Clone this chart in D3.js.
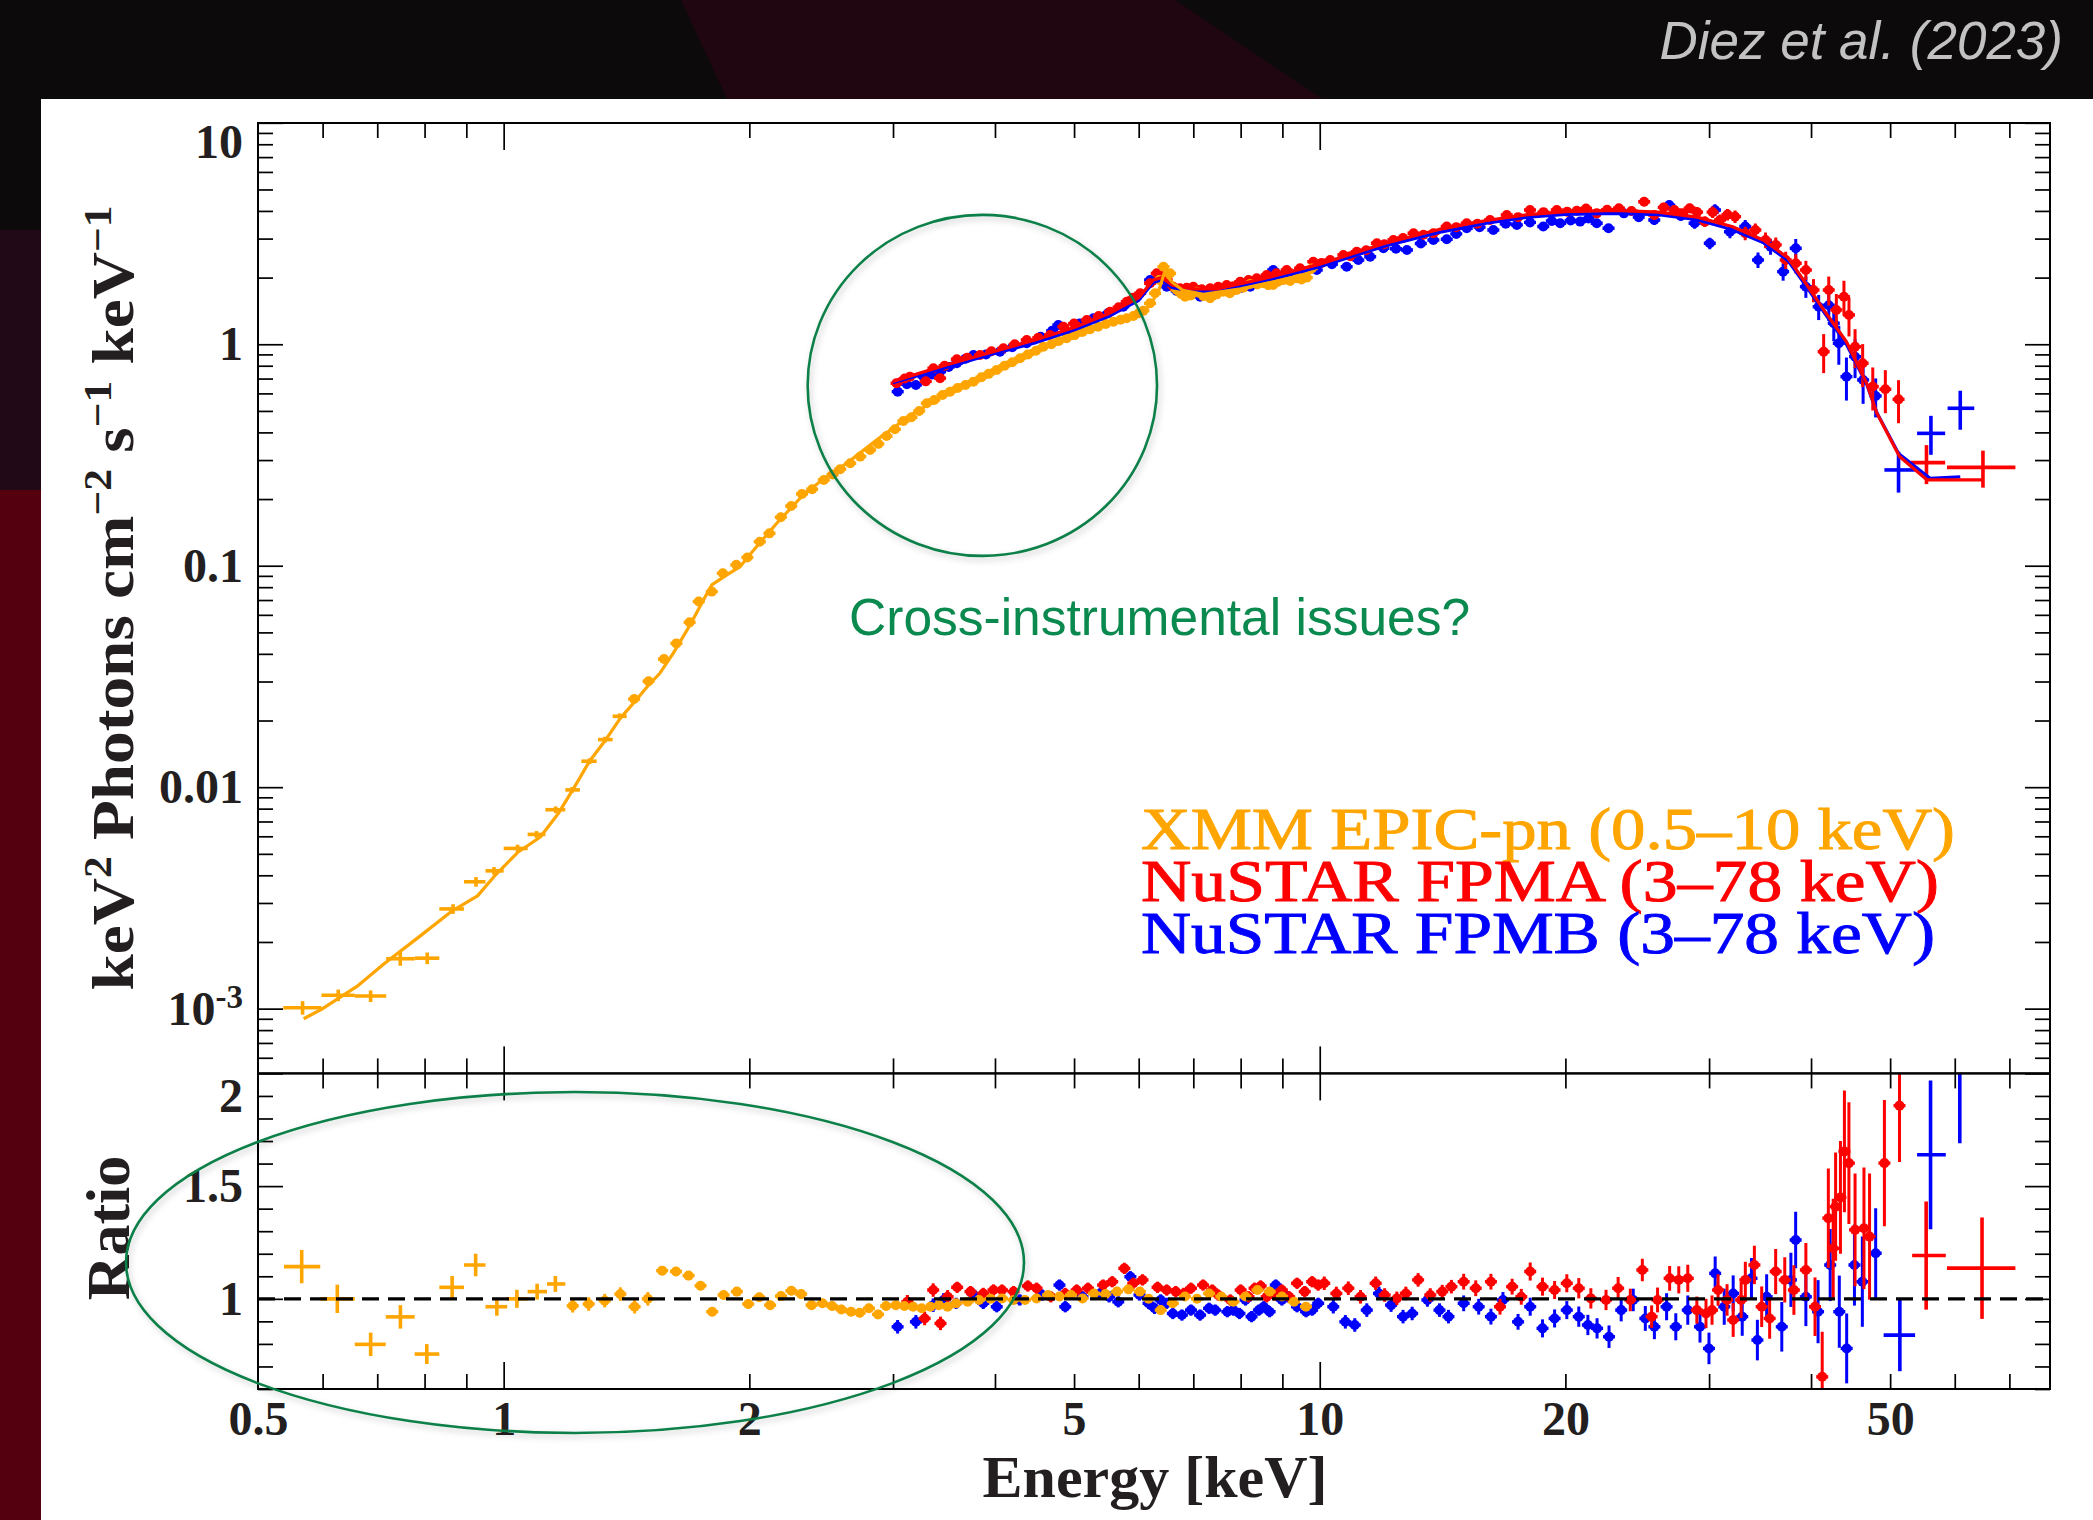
<!DOCTYPE html>
<html>
<head>
<meta charset="utf-8">
<script src="https://cdn.jsdelivr.net/npm/d3@7/dist/d3.min.js"></script>
<style>
html,body{margin:0;padding:0;background:#0d0a0b;overflow:hidden;}
svg{display:block;}
</style>
</head>
<body>
<svg id="chart" width="2093" height="1520"></svg>
<script>
// ================= DATA =================
const xTickLabels = [0.5, 1, 2, 5, 10, 20, 50];
const yTopTicks = [0.001, 0.01, 0.1, 1, 10];
const yRatioTicks = [1, 1.5, 2];
const legendLabels = ["XMM EPIC-pn (0.5–10 keV)", "NuSTAR FPMA (3–78 keV)", "NuSTAR FPMB (3–78 keV)"];
const seriesColors = ["#ffa500", "#ff0000", "#0000ff"];
const annotText = "Cross-instrumental issues?";
const creditText = "Diez et al. (2023)";

// XMM EPIC-pn unfolded spectrum: [E keV, keV^2 flux, rel. err, (Elo, Ehi)]
const xmmFlux = [
[0.567,1.01e-3,0.07,0.537,0.598],[0.627,1.15e-3,0.06,0.598,0.657],[0.687,1.14e-3,0.06,0.657,0.718],
[0.747,1.68e-3,0.07,0.718,0.778],[0.806,1.69e-3,0.06,0.778,0.834],[0.867,2.82e-3,0.05,0.834,0.894],
[0.925,3.74e-3,0.05,0.894,0.95],[0.973,4.19e-3,0.04,0.95,1.0],[1.04,5.29e-3,0.04,1.0,1.07],
[1.097,6.12e-3,0.035,1.07,1.125],[1.158,7.91e-3,0.035,1.125,1.19],[1.213,9.72e-3,0.03,1.19,1.24],
[1.274,1.31e-2,0.03,1.245,1.30],[1.331,1.64e-2,0.03,1.305,1.36],[1.387,2.09e-2,0.03,1.36,1.415],
[1.445,2.50e-2,0.025],[1.505,3.01e-2,0.025],[1.572,3.79e-2,0.025],[1.628,4.46e-2,0.02],[1.69,5.55e-2,0.02],
[1.734,6.89e-2,0.02],[1.799,7.64e-2,0.02],[1.856,9.25e-2,0.02],[1.928,0.1009,0.02],[1.989,0.109,0.02],
[2.06,0.1284,0.02],[2.117,0.140,0.02],[2.186,0.1656,0.02],[2.251,0.186,0.02],[2.321,0.211,0.02],
[2.388,0.2215,0.02],[2.468,0.244,0.02],[2.53,0.258,0.02],[2.585,0.273,0.02],[2.659,0.290,0.02],
[2.735,0.311,0.02],[2.812,0.333,0.02],[2.878,0.355,0.02],[2.946,0.385,0.02],[3.016,0.413,0.02],
[3.089,0.45,0.02],[3.16,0.468,0.02],[3.23,0.50,0.02],[3.30,0.5416,0.02],[3.37,0.56,0.02],[3.45,0.59,0.02],
[3.524,0.611,0.02],[3.60,0.635,0.02],[3.68,0.655,0.02],[3.764,0.678,0.02],[3.85,0.71,0.02],[3.93,0.735,0.02],
[4.02,0.766,0.02],[4.11,0.80,0.02],[4.20,0.83,0.02],[4.294,0.865,0.02],[4.39,0.90,0.02],[4.49,0.935,0.02],
[4.585,0.975,0.02],[4.69,1.0,0.02],[4.79,1.035,0.02],[4.898,1.064,0.02],[5.01,1.10,0.02],[5.12,1.135,0.02],
[5.232,1.168,0.02],[5.35,1.20,0.02],[5.47,1.235,0.02],[5.587,1.265,0.02],[5.70,1.29,0.02],[5.80,1.31,0.02],
[5.911,1.342,0.02],[6.00,1.38,0.02],[6.08,1.418,0.02],[6.196,1.531,0.02],[6.284,1.699,0.02],[6.36,1.95,0.02],
[6.434,2.24,0.02],[6.556,2.09,0.02],[6.681,1.758,0.02],[6.76,1.69,0.02],[6.839,1.64,0.02],[6.95,1.66,0.02],
[7.07,1.727,0.02],[7.2,1.65,0.02],[7.34,1.613,0.02],[7.48,1.68,0.02],[7.62,1.727,0.02],[7.76,1.70,0.02],
[7.91,1.758,0.02],[8.06,1.80,0.02],[8.22,1.873,0.02],[8.38,1.86,0.02],[8.53,1.887,0.02],[8.65,1.85,0.02],
[8.77,1.853,0.02],[8.9,1.92,0.02],[9.03,1.951,0.02],[9.2,1.93,0.02],[9.37,1.986,0.02],[9.5,1.96,0.02],
[9.64,2.00,0.02],[9.78,2.2,0.02]
];
const xmmModel = [
[0.5687,9.0e-4],[0.598,9.92e-4],[0.661,1.26e-3],[0.713,1.59e-3],[0.789,2.12e-3],[0.862,2.74e-3],
[0.929,3.23e-3],[0.977,4.01e-3],[1.04,5.07e-3],[1.109,5.96e-3],[1.166,7.58e-3],[1.226,1.027e-2],
[1.274,1.31e-2],[1.331,1.62e-2],[1.39,2.05e-2],[1.45,2.45e-2],[1.50,2.85e-2],[1.554,3.27e-2],
[1.614,4.03e-2],[1.692,5.40e-2],[1.757,7.01e-2],[1.799,8.19e-2],[1.877,9.09e-2],[1.949,0.0991],
[2.042,0.122],[2.161,0.1555],[2.308,0.2017],[2.441,0.2397],[2.633,0.2903],[2.866,0.37],[3.178,0.488],
[3.5,0.6],[4.0,0.76],[4.5,0.94],[5.0,1.09],[5.5,1.23],[6.0,1.36],[6.2,1.5],[6.35,1.75],[6.45,2.1],
[6.6,1.9],[6.8,1.75],[7.2,1.68],[8.0,1.78],[9.0,1.95],[9.8,2.12]
];

// NuSTAR FPMA unfolded spectrum
const fpmaFlux = [
[3.03,0.667,0.03],[3.10,0.70,0.03],[3.147,0.714,0.03],[3.29,0.68,0.03],[3.362,0.779,0.03],[3.426,0.703,0.03],
[3.47,0.80,0.03],[3.592,0.856,0.025],[3.70,0.87,0.025],[3.835,0.895,0.025],[3.96,0.93,0.025],[4.096,0.959,0.025],
[4.23,1.0,0.025],[4.375,1.046,0.025],[4.52,1.07,0.025],[4.672,1.101,0.025],[4.851,1.201,0.025],[5.0,1.24,0.025],
[5.183,1.287,0.025],[5.36,1.34,0.025],[5.535,1.403,0.025],[5.67,1.47,0.025],[5.802,1.557,0.025],[5.91,1.62,0.025],
[6.025,1.699,0.025],[6.196,1.886,0.025],[6.314,2.091,0.025],[6.40,2.04,0.025],[6.494,1.951,0.025],[6.617,1.82,0.025],
[6.742,1.79,0.025],[6.87,1.80,0.025],[7.0,1.82,0.025],[7.17,1.77,0.025],[7.34,1.79,0.025],[7.51,1.82,0.025],
[7.69,1.853,0.025],[7.84,1.83,0.025],[7.99,1.916,0.025],[8.18,1.95,0.025],[8.37,1.986,0.025],[8.61,2.055,0.025],
[8.85,2.09,0.025],[9.11,2.164,0.025],[9.46,2.203,0.025],[9.82,2.36,0.025],[10.05,2.33,0.03],[10.30,2.402,0.03],
[10.69,2.53,0.03],[10.9,2.50,0.03],[11.10,2.618,0.03],[11.4,2.66,0.03],[11.75,2.857,0.03],[12.0,2.83,0.03],
[12.31,2.957,0.03],[12.65,3.02,0.03],[13.03,3.17,0.03],[13.4,3.12,0.03],[13.78,3.17,0.03],[14.31,3.40,0.03],
[14.7,3.38,0.03],[15.14,3.52,0.03],[15.6,3.50,0.03],[16.17,3.64,0.035],[16.95,3.835,0.035],[17.5,3.75,0.035],
[18.10,4.04,0.035],[18.8,3.95,0.035],[19.52,4.04,0.035],[20.1,3.97,0.04],[20.65,4.01,0.04],[21.2,4.10,0.04],
[21.85,3.90,0.04],[22.5,4.05,0.04],[23.26,4.11,0.04],[24.1,4.0,0.045],[24.98,4.40,0.045],[25.70,3.835,0.045],
[26.4,4.15,0.05],[27.20,4.04,0.05],[27.8,3.9,0.05],[28.40,4.11,0.05],[29.0,3.95,0.055],[29.64,3.58,0.055],
[30.3,3.95,0.06],[30.94,3.64,0.06],[31.6,3.85,0.06],[32.28,3.77,0.065],[33.22,3.17,0.07],[34.18,3.28,0.07],
[35.18,2.957,0.08],[36.21,2.81,0.08],[37.24,2.402,0.09],[38.31,2.32,0.1],[39.42,2.164,0.1],[40.28,1.758,0.12],
[41.45,0.926,0.2],[42.05,1.758,0.15],[42.96,1.429,0.18],[43.89,1.64,0.18],[44.52,1.356,0.2],[45.29,0.975,0.2],
[46.27,0.821,0.22],[47.61,0.644,0.22],[49.33,0.626,0.22],[51.20,0.564,0.22],
[55.4,0.292,0.2,53.0,58.4],[64.97,0.278,0.19,58.7,71.2]
];
const fpmaModel = [
[3.0,0.68],[3.5,0.81],[4.0,0.93],[4.5,1.05],[5.0,1.19],[5.5,1.37],[6.0,1.62],[6.25,1.95],[6.4,2.0],[6.6,1.85],
[7.0,1.78],[7.5,1.78],[8.5,1.97],[10,2.3],[12,2.85],[14,3.3],[16,3.62],[18,3.85],[20,3.97],[23,4.02],[26,3.95],
[29,3.75],[32,3.4],[35,2.95],[37.5,2.45],[39.4,1.886],[41.74,1.38],[44.2,1.027],[46.8,0.667],[48.17,0.488],
[51.34,0.311],[55.5,0.244],[64.97,0.244]
];

// NuSTAR FPMB unfolded spectrum
const fpmbFlux = [
[3.04,0.611,0.03],[3.12,0.66,0.03],[3.2,0.655,0.03],[3.269,0.714,0.03],[3.35,0.73,0.03],[3.426,0.752,0.03],
[3.51,0.79,0.03],[3.592,0.821,0.025],[3.68,0.86,0.025],[3.764,0.895,0.025],[3.9,0.90,0.025],[4.057,0.926,0.025],
[4.2,0.97,0.025],[4.375,1.01,0.025],[4.55,1.08,0.025],[4.70,1.15,0.025],[4.783,1.222,0.025],[4.898,1.121,0.025],
[5.08,1.24,0.025],[5.281,1.31,0.025],[5.5,1.38,0.025],[5.745,1.478,0.025],[5.95,1.62,0.025],[6.196,1.951,0.025],
[6.374,2.019,0.025],[6.494,1.82,0.025],[6.68,1.74,0.025],[6.873,1.727,0.025],[7.135,1.64,0.025],[7.43,1.758,0.025],
[7.638,1.74,0.025],[7.838,1.79,0.025],[8.02,1.80,0.025],[8.22,1.82,0.025],[8.5,1.95,0.025],[8.77,2.164,0.025],
[9.03,2.06,0.025],[9.284,2.055,0.025],[9.6,2.13,0.025],[9.917,2.164,0.025],[10.35,2.30,0.03],[10.79,2.24,0.03],
[11.15,2.40,0.03],[11.53,2.485,0.03],[11.97,2.713,0.03],[12.4,2.70,0.03],[12.79,2.665,0.03],[13.3,2.85,0.03],
[13.78,2.957,0.03],[14.31,2.979,0.03],[14.7,3.15,0.03],[15.14,3.34,0.03],[15.7,3.38,0.03],[16.32,3.28,0.035],
[16.9,3.50,0.035],[17.44,3.46,0.035],[18.1,3.55,0.035],[18.79,3.40,0.035],[19.25,3.6,0.035],[19.71,3.52,0.04],
[20.3,3.62,0.04],[20.85,3.58,0.04],[21.35,3.70,0.04],[21.85,3.52,0.04],[22.59,3.34,0.04],[23.59,3.90,0.045],
[24.6,3.75,0.045],[25.70,3.64,0.05],[26.81,4.25,0.05],[27.7,3.8,0.05],[28.80,3.52,0.055],[30.06,2.857,0.06],
[30.50,4.04,0.06],[31.82,3.22,0.065],[33.22,3.40,0.07],[34.44,2.402,0.08],[35.68,2.76,0.08],[36.97,2.128,0.09],
[38.31,2.713,0.1],[39.42,1.82,0.11],[40.87,1.478,0.13],[42.05,1.50,0.15],[42.65,1.244,0.17],[43.26,1.01,0.2],
[44.20,0.714,0.22],[45.29,0.879,0.2],[46.33,0.69,0.22],[48.0,0.584,0.2],
[51.2,0.2707,0.21,49.2,53.6],[56.1,0.396,0.2,53.95,58.4],[60.94,0.514,0.2,58.8,63.4]
];
const fpmbModel = [
[3.0,0.67],[3.5,0.79],[4.0,0.91],[4.5,1.02],[5.0,1.16],[5.5,1.33],[6.0,1.58],[6.25,1.9],[6.4,1.95],[6.6,1.8],
[7.0,1.73],[7.5,1.73],[8.5,1.92],[10,2.24],[12,2.77],[14,3.2],[16,3.52],[18,3.75],[20,3.86],[23,3.9],[26,3.85],
[29,3.65],[32,3.3],[35,2.87],[37.5,2.38],[39.4,1.84],[41.74,1.35],[44.2,1.0],[46.8,0.66],[48.17,0.49],
[51.2,0.321],[55.95,0.248],[60.94,0.252]
];

// Data / model ratios: [E keV, ratio, ±err, (Elo, Ehi)]
const xmmRatio = [
[0.5656,1.143,0.074,0.538,0.596],[0.6254,1.0,0.063,0.596,0.657],[0.6871,0.798,0.052,0.657,0.717],
[0.7473,0.920,0.052,0.717,0.778],[0.805,0.755,0.044,0.778,0.834],[0.8647,1.051,0.05,0.834,0.894],
[0.924,1.150,0.05,0.894,0.95],[0.981,0.965,0.04,0.95,1.01],[1.038,1.0,0.04,1.01,1.07],
[1.099,1.032,0.035,1.07,1.13],[1.157,1.066,0.035,1.13,1.19],
[1.215,0.969,0.03],[1.271,0.977,0.03],[1.330,0.992,0.03],[1.390,1.021,0.03],[1.447,0.965,0.03],[1.502,1.0,0.03],
[1.564,1.125,0.02],[1.626,1.121,0.02],[1.685,1.103,0.02],[1.743,1.058,0.02],[1.801,0.943,0.02],[1.860,1.017,0.02],
[1.931,1.032,0.02],[1.994,0.977,0.02],[2.057,1.007,0.02],[2.121,0.972,0.02],[2.187,1.012,0.02],[2.252,1.036,0.02],
[2.315,1.021,0.02],[2.384,0.972,0.02],[2.458,0.98,0.02],[2.526,0.968,0.02],[2.593,0.953,0.02],[2.665,0.943,0.02],
[2.731,0.938,0.02],[2.803,0.958,0.02],[2.876,0.931,0.02],[2.942,0.968,0.02],[3.024,0.972,0.015],[3.098,0.968,0.015],
[3.175,0.965,0.015],[3.253,0.958,0.015],[3.334,0.965,0.015],[3.415,0.972,0.015],[3.499,0.965,0.015],[3.585,0.98,0.015],
[3.703,0.987,0.015],[3.824,0.995,0.015],[3.951,1.0,0.015],[4.081,1.002,0.015],[4.215,0.995,0.015],[4.354,0.995,0.015],
[4.498,1.002,0.015],[4.646,1.017,0.015],[4.798,1.01,0.015],[4.957,1.017,0.015],[5.120,1.002,0.015],[5.289,1.024,0.015],
[5.463,1.021,0.015],[5.643,1.032,0.015],[5.829,1.042,0.015],[6.020,1.032,0.015],[6.170,1.0,0.015],[6.385,0.95,0.015],
[6.606,0.98,0.015],[6.836,1.01,0.015],[7.073,1.0,0.015],[7.32,1.024,0.015],[7.574,1.01,0.015],[7.838,0.987,0.015],
[8.11,1.01,0.015],[8.39,1.039,0.015],[8.685,1.032,0.015],[8.99,1.01,0.015],[9.30,0.987,0.015],[9.62,0.965,0.015]
];
const fpmaRatio = [
[3.124,0.987,0.03],[3.28,0.913,0.03],[3.36,1.039,0.03],[3.43,0.891,0.03],[3.50,1.009,0.03],[3.595,1.051,0.025],
[3.733,1.032,0.025],[3.87,1.024,0.025],[3.983,1.039,0.025],[4.08,1.039,0.025],[4.215,1.032,0.025],[4.389,1.057,0.025],
[4.498,1.047,0.025],[4.683,1.009,0.025],[4.877,1.024,0.025],[5.037,1.039,0.025],[5.20,1.047,0.025],[5.427,1.061,0.025],
[5.568,1.076,0.025],[5.762,1.135,0.025],[5.909,1.069,0.025],[6.065,1.084,0.025],[6.328,1.051,0.025],[6.494,1.039,0.025],
[6.662,1.032,0.025],[6.811,1.024,0.025],[6.954,1.047,0.025],[7.195,1.061,0.025],[7.383,1.039,0.025],[7.509,1.017,0.025],
[7.770,0.995,0.025],[8.001,1.039,0.025],[8.180,1.009,0.025],[8.321,1.047,0.025],[8.465,1.057,0.025],[8.611,1.009,0.025],
[8.804,1.017,0.025],[8.987,1.039,0.025],[9.174,1.009,0.025],[9.380,1.069,0.025],[9.586,1.032,0.025],[9.788,1.076,0.025],
[9.956,1.061,0.025],[10.128,1.069,0.03],[10.48,1.024,0.03],[10.84,1.047,0.03],[11.22,1.009,0.03],[11.71,1.069,0.03],
[12.01,1.017,0.03],[12.43,1.002,0.03],[12.75,1.024,0.03],[13.20,1.084,0.03],[13.66,1.017,0.03],[14.13,1.032,0.03],
[14.50,1.054,0.03],[15.01,1.076,0.035],[15.53,1.047,0.035],[16.21,1.076,0.035],[16.63,0.965,0.035],[17.21,1.054,0.035],
[17.66,1.009,0.035],[18.11,1.121,0.04],[18.75,1.054,0.04],[19.40,1.039,0.04],[20.08,1.069,0.04],[20.77,1.047,0.045],
[21.49,1.002,0.045],[22.43,0.995,0.045],[23.21,1.047,0.05],[24.02,0.995,0.05],[24.85,1.128,0.05],[25.51,0.921,0.05],
[25.94,0.995,0.055],[26.84,1.091,0.055],[27.54,1.084,0.06],[28.25,1.091,0.06],[28.98,0.95,0.06],[29.74,0.935,0.065],
[30.25,0.95,0.065],[30.77,1.039,0.07],[31.56,0.995,0.07],[32.11,0.906,0.075],[32.84,0.995,0.08],[33.23,1.084,0.08],
[34.09,1.15,0.085],[34.80,0.965,0.09],[35.59,0.913,0.09],[36.20,1.121,0.1],[37.14,1.084,0.1],[38.11,1.039,0.11],
[39.42,1.128,0.12],[40.45,0.965,0.13],[41.28,0.654,0.2],[42.0,1.358,0.22],[42.58,1.224,0.22],[42.87,1.409,0.24],
[43.46,1.45,0.25],[43.95,1.654,0.27],[44.51,1.602,0.27],[45.29,1.306,0.25],[46.44,1.313,0.27],[47.18,1.276,0.28],
[49.20,1.602,0.28],[51.34,1.857,0.25],[55.35,1.192,0.24,53.2,58.5],[64.8,1.136,0.225,58.7,71.2]
];
const fpmbRatio = [
[3.039,0.876,0.03],[3.20,0.898,0.03],[3.36,0.972,0.03],[3.46,0.995,0.03],[3.585,0.98,0.025],[3.752,1.024,0.025],
[3.87,0.98,0.025],[4.02,0.965,0.025],[4.29,0.995,0.025],[4.57,1.017,0.025],[4.798,1.061,0.025],[4.877,0.965,0.025],
[5.12,1.009,0.025],[5.381,1.024,0.025],[5.52,1.009,0.025],[5.664,0.987,0.025],[5.861,1.098,0.025],[6.014,1.017,0.025],
[6.169,0.98,0.025],[6.275,0.958,0.025],[6.384,0.995,0.025],[6.494,0.98,0.025],[6.607,0.935,0.025],[6.778,0.928,0.025],
[6.954,0.95,0.025],[7.135,0.928,0.025],[7.318,0.958,0.025],[7.446,0.95,0.025],[7.704,0.943,0.025],[7.837,0.95,0.025],
[7.973,0.935,0.025],[8.11,0.995,0.025],[8.25,0.921,0.025],[8.423,0.95,0.025],[8.538,0.965,0.025],[8.681,0.943,0.025],
[8.834,1.061,0.025],[8.987,0.995,0.025],[9.141,1.009,0.025],[9.38,0.965,0.025],[9.622,0.943,0.025],[9.788,0.95,0.025],
[9.957,0.98,0.025],[10.39,0.965,0.03],[10.75,0.898,0.03],[11.04,0.884,0.03],[11.42,0.95,0.03],[11.82,1.024,0.03],
[12.23,0.972,0.03],[12.65,0.921,0.03],[12.98,0.935,0.03],[13.55,0.995,0.03],[14.02,0.95,0.03],[14.38,0.921,0.03],
[15.01,0.98,0.035],[15.66,0.965,0.035],[16.21,0.921,0.035],[16.77,0.995,0.035],[17.50,0.898,0.035],[18.11,0.965,0.04],
[18.75,0.869,0.04],[19.40,0.913,0.04],[20.08,0.95,0.04],[20.77,0.921,0.045],[21.31,0.884,0.045],[21.87,0.869,0.045],
[22.62,0.832,0.05],[23.41,0.95,0.05],[24.22,0.995,0.05],[25.06,0.913,0.055],[25.71,0.876,0.055],[26.61,0.965,0.06],
[27.31,0.876,0.06],[28.25,0.95,0.065],[29.24,0.876,0.07],[29.99,0.78,0.07],[30.52,1.113,0.075],[31.31,0.965,0.08],
[32.11,1.024,0.08],[32.94,0.921,0.085],[33.81,1.091,0.09],[34.38,0.817,0.09],[35.29,1.009,0.1],[36.83,0.876,0.11],
[37.79,1.084,0.12],[38.30,1.261,0.125],[39.42,1.009,0.13],[40.80,0.943,0.14],[42.22,1.15,0.16],[43.32,0.943,0.16],
[44.23,0.78,0.155],[45.21,1.15,0.18],[46.23,1.076,0.2],[48.0,1.202,0.2],
[51.39,0.839,0.16,49.09,53.65],[56.04,1.639,0.33,53.95,58.5],[60.86,2.04,0.35,58.7,63.6]
];

// annotation anchors in data coordinates
const circleAnchor = [3.86, 0.652];   // [E, flux]
const ellipseAnchor = [1.223, 1.161]; // [E, ratio]
const textAnchor = [2.65, 0.0487];    // [E, flux]

// ================= DRAWING =================
const W = 2093, H = 1520;
const SERIF = "'Liberation Serif','Times New Roman',serif";
const SANS = "'Liberation Sans',Arial,sans-serif";
const INK = "#231f20";
const svg = d3.select('#chart');
const defs = svg.append('defs');

// slide backdrop
svg.append('rect').attr('width', W).attr('height', H).attr('fill', '#0d0a0b');
svg.append('path').attr('d', 'M681,0 L1175,0 L1322,99 L727,99 Z').attr('fill', '#1f0611');
svg.append('rect').attr('x', 0).attr('y', 230).attr('width', 41).attr('height', 270).attr('fill', '#220917');
svg.append('rect').attr('x', 0).attr('y', 490).attr('width', 41).attr('height', H - 490).attr('fill', '#55000f');
svg.append('rect').attr('x', 41).attr('y', 99).attr('width', W - 41).attr('height', H - 99).attr('fill', '#ffffff');
svg.append('text').attr('x', 2063).attr('y', 59).attr('text-anchor', 'end')
  .attr('font-family', SANS).attr('font-style', 'italic').attr('font-size', 53)
  .attr('fill', '#c2c2c2').text(creditText);

// layout
const P = {l: 258, r: 2050, t: 123, m: 1073.4, b: 1389};
const x = d3.scaleLog().domain([0.5, 78.5]).range([P.l, P.r]);
const yT = d3.scaleLog().domain([5.1e-4, 10]).range([P.m, 122.8]);
const yR = d3.scaleLinear().domain([0.6, 2]).range([P.b, P.m]);

defs.append('clipPath').attr('id', 'clipT').append('rect')
  .attr('x', P.l).attr('y', P.t).attr('width', P.r - P.l).attr('height', P.m - P.t);
defs.append('clipPath').attr('id', 'clipR').append('rect')
  .attr('x', P.l).attr('y', P.m).attr('width', P.r - P.l).attr('height', P.b - P.m);
const shadow = defs.append('filter').attr('id', 'shadow')
  .attr('x', '-20%').attr('y', '-20%').attr('width', '140%').attr('height', '140%');
shadow.append('feDropShadow').attr('dx', 2).attr('dy', 3).attr('stdDeviation', 3)
  .attr('flood-color', '#000').attr('flood-opacity', 0.22);

function drawData(g, data, ys, color, relErr) {
  const grp = g.append('g').attr('fill', color).attr('stroke', color)
    .selectAll('g').data(data).join('g');
  grp.append('line')
    .attr('x1', d => x(d[0])).attr('x2', d => x(d[0]))
    .attr('y1', d => ys(relErr ? d[1] * (1 - d[2]) : d[1] - d[2]))
    .attr('y2', d => ys(relErr ? d[1] * (1 + d[2]) : d[1] + d[2]))
    .attr('stroke-width', d => d.length > 3 ? 3.6 : 3);
  grp.append('line')
    .attr('x1', d => d.length > 3 ? x(d[3]) : x(d[0]) - 6)
    .attr('x2', d => d.length > 3 ? x(d[4]) : x(d[0]) + 6)
    .attr('y1', d => ys(d[1])).attr('y2', d => ys(d[1]))
    .attr('stroke-width', d => d.length > 3 ? 3.6 : 3.4);
  grp.filter(d => d.length <= 3).append('circle')
    .attr('cx', d => x(d[0])).attr('cy', d => ys(d[1])).attr('r', 5).attr('stroke', 'none');
}
function drawModel(g, data, color) {
  g.append('path').datum(data)
    .attr('d', d3.line().x(d => x(d[0])).y(d => yT(d[1])))
    .attr('fill', 'none').attr('stroke', color).attr('stroke-width', 3.2).attr('stroke-linejoin', 'round');
}

// ---- top panel data
const gT = svg.append('g').attr('clip-path', 'url(#clipT)');
drawData(gT, fpmbFlux, yT, seriesColors[2], true);
drawData(gT, fpmaFlux, yT, seriesColors[1], true);
drawData(gT, xmmFlux, yT, seriesColors[0], true);
drawModel(gT, fpmbModel, seriesColors[2]);
drawModel(gT, fpmaModel, seriesColors[1]);
drawModel(gT, xmmModel, seriesColors[0]);

// ---- ratio panel data
const gR = svg.append('g').attr('clip-path', 'url(#clipR)');
drawData(gR, fpmbRatio, yR, seriesColors[2], false);
drawData(gR, fpmaRatio, yR, seriesColors[1], false);
drawData(gR, xmmRatio, yR, seriesColors[0], false);
gR.append('line').attr('x1', P.l).attr('x2', P.r).attr('y1', yR(1)).attr('y2', yR(1))
  .attr('stroke', '#000').attr('stroke-width', 3.2).attr('stroke-dasharray', '17,9');

// ---- axes
function styleAxis(sel) {
  sel.select('.domain').remove();
  sel.selectAll('line').attr('stroke', '#000').attr('stroke-width', 1.7);
  sel.attr('font-family', SERIF).attr('font-size', 48).attr('font-weight', 'bold');
  sel.selectAll('text').attr('fill', INK);
}
const isDecade = v => Math.abs(Math.log10(v) - Math.round(Math.log10(v))) < 1e-6;
const xAll = x.ticks().filter(v => v > 0.5 + 1e-9);
const xMaj = xAll.filter(isDecade), xMin = xAll.filter(v => !isDecade(v));
const yTAll = yT.ticks();
const yTMaj = yTAll.filter(isDecade), yTMin = yTAll.filter(v => !isDecade(v));
const yRAll = yR.ticks(14);
const yRMin = yRAll.filter(v => !yRatioTicks.some(t => Math.abs(t - v) < 1e-6));

const fmtTop = d => Math.abs(d - 0.001) < 1e-12 ? '10' : d3.format('~g')(d);
const axes = svg.append('g');
// top panel left/right
axes.append('g').attr('transform', `translate(${P.l},0)`)
  .call(d3.axisLeft(yT).tickValues(yTopTicks).tickSize(-25).tickPadding(15).tickFormat(fmtTop)).call(styleAxis)
  .call(g => {
    g.selectAll('text').filter(d => Math.abs(d - 0.001) < 1e-12)
      .append('tspan').attr('dy', '-17').attr('font-size', 33).text('-3');
    g.selectAll('text').filter(d => d === 10).attr('dy', '0.73em');
  });
axes.append('g').attr('transform', `translate(${P.l},0)`)
  .call(d3.axisLeft(yT).tickValues(yTMin).tickSize(-15).tickFormat('')).call(styleAxis);
axes.append('g').attr('transform', `translate(${P.r},0)`)
  .call(d3.axisRight(yT).tickValues(yTMaj).tickSize(-25).tickFormat('')).call(styleAxis);
axes.append('g').attr('transform', `translate(${P.r},0)`)
  .call(d3.axisRight(yT).tickValues(yTMin).tickSize(-15).tickFormat('')).call(styleAxis);
// ratio panel left/right
axes.append('g').attr('transform', `translate(${P.l},0)`)
  .call(d3.axisLeft(yR).tickValues(yRatioTicks).tickSize(-25).tickPadding(15).tickFormat(d3.format('~g'))).call(styleAxis)
  .call(g => g.selectAll('text').filter(d => d === 2).attr('dy', '0.8em'));
axes.append('g').attr('transform', `translate(${P.l},0)`)
  .call(d3.axisLeft(yR).tickValues(yRMin).tickSize(-15).tickFormat('')).call(styleAxis);
axes.append('g').attr('transform', `translate(${P.r},0)`)
  .call(d3.axisRight(yR).tickValues(yRatioTicks).tickSize(-25).tickFormat('')).call(styleAxis);
axes.append('g').attr('transform', `translate(${P.r},0)`)
  .call(d3.axisRight(yR).tickValues(yRMin).tickSize(-15).tickFormat('')).call(styleAxis);
// x ticks on every horizontal edge
[[P.t, 'top'], [P.m, 'bottom'], [P.m, 'top'], [P.b, 'bottom']].forEach(([yy, side]) => {
  const mk = side === 'top' ? d3.axisTop : d3.axisBottom;
  axes.append('g').attr('transform', `translate(0,${yy})`)
    .call(mk(x).tickValues(xMaj).tickSize(-27).tickFormat('')).call(styleAxis);
  axes.append('g').attr('transform', `translate(0,${yy})`)
    .call(mk(x).tickValues(xMin).tickSize(-15).tickFormat('')).call(styleAxis);
});
axes.append('g').attr('transform', `translate(0,${P.b})`)
  .call(d3.axisBottom(x).tickValues(xTickLabels).tickSize(0).tickPadding(12).tickFormat(d3.format('~g'))).call(styleAxis);

// frames
[[P.t, P.m], [P.m, P.b]].forEach(([a, b]) => {
  axes.append('rect').attr('x', P.l).attr('y', a).attr('width', P.r - P.l).attr('height', b - a)
    .attr('fill', 'none').attr('stroke', '#000').attr('stroke-width', 2);
});

// axis titles
svg.append('text').attr('x', 1155).attr('y', 1497).attr('text-anchor', 'middle')
  .attr('font-family', SERIF).attr('font-weight', 'bold').attr('font-size', 60).attr('fill', INK)
  .text('Energy [keV]');
svg.append('text').attr('transform', 'translate(129,1228) rotate(-90)').attr('text-anchor', 'middle')
  .attr('font-family', SERIF).attr('font-weight', 'bold').attr('font-size', 62).attr('fill', INK)
  .text('Ratio');
const yl = svg.append('text').attr('transform', 'translate(133,598) rotate(-90)').attr('text-anchor', 'middle')
  .attr('font-family', SERIF).attr('font-weight', 'bold').attr('font-size', 60).attr('fill', INK)
  .attr('textLength', 785).attr('lengthAdjust', 'spacingAndGlyphs');
const ylParts = [['keV', 0], ['2', 1], [' Photons cm', 0], ['\u22122', 1], [' s', 0], ['\u22121', 1], [' keV', 0], ['\u22121', 1]];
let lift = 0;
ylParts.forEach(([t, sup]) => {
  const target = sup ? -22 : 0;
  yl.append('tspan').attr('dy', target - lift).attr('font-size', sup ? 40 : 60).text(t);
  lift = target;
});

// legend
svg.append('g').attr('font-family', SERIF).attr('font-size', 59)
  .selectAll('text').data(legendLabels).join('text')
  .attr('x', 1141).attr('y', (d, i) => 849.3 + i * 52)
  .attr('fill', (d, i) => seriesColors[i]).attr('stroke', (d, i) => seriesColors[i]).attr('stroke-width', 0.9)
  .attr('textLength', (d, i) => [814, 798, 794][i]).attr('lengthAdjust', 'spacingAndGlyphs')
  .text(d => d);

// annotations
const green = '#0b8a4f';
svg.append('ellipse').attr('cx', x(circleAnchor[0])).attr('cy', yT(circleAnchor[1]))
  .attr('rx', 174.7).attr('ry', 170.5).attr('fill', 'none').attr('stroke', '#0c8049').attr('stroke-width', 2.6)
  .attr('filter', 'url(#shadow)');
svg.append('ellipse').attr('cx', x(ellipseAnchor[0])).attr('cy', yR(ellipseAnchor[1]))
  .attr('rx', 449).attr('ry', 170.5).attr('fill', 'none').attr('stroke', '#0c8049').attr('stroke-width', 2.6)
  .attr('filter', 'url(#shadow)');
svg.append('text').attr('x', x(textAnchor[0])).attr('y', yT(textAnchor[1]))
  .attr('font-family', SANS).attr('font-size', 51.5).attr('fill', green).text(annotText);
</script>
</body>
</html>
